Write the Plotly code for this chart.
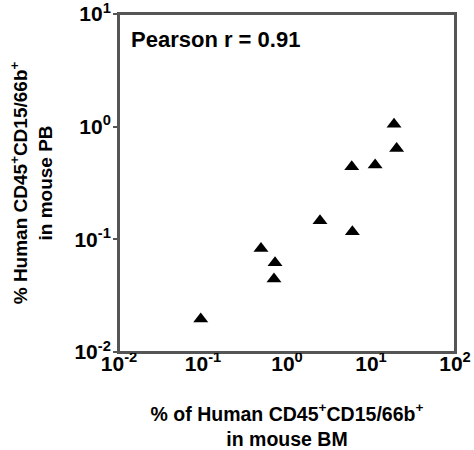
import plotly.graph_objects as go

# Data (% human CD45+CD15/66b+ in BM vs PB)
bm_pct = [0.094, 0.49, 0.72, 0.70, 2.47, 6.0, 5.9, 11.2, 18.8, 20.2]
pb_pct = [0.0196, 0.083, 0.062, 0.0445, 0.146, 0.117, 0.44, 0.456, 1.05, 0.64]

x_tickvals = [0.01, 0.1, 1, 10, 100]
x_ticktext = ["10<sup>-2</sup>", "10<sup>-1</sup>", "10<sup>0</sup>", "10<sup>1</sup>", "10<sup>2</sup>"]
y_tickvals = [0.01, 0.1, 1, 10]
y_ticktext = ["10<sup>-2</sup>", "10<sup>-1</sup>", "10<sup>0</sup>", "10<sup>1</sup>"]

annotation_text = "Pearson r = 0.91"
x_title = "% of Human CD45<sup>+</sup>CD15/66b<sup>+</sup><br>in mouse BM"
y_title = "% Human CD45<sup>+</sup>CD15/66b<sup>+</sup><br>in mouse PB"

FONT = "Liberation Sans, Arial, sans-serif"
AXCOL = "#555555"

fig = go.Figure()
fig.add_trace(go.Scatter(
    x=bm_pct, y=pb_pct, mode="markers",
    marker=dict(symbol="triangle-up", size=13, color="black"),
    showlegend=False,
))

fig.update_layout(
    width=474, height=450,
    margin=dict(l=119, r=19, t=14, b=98),
    paper_bgcolor="white", plot_bgcolor="white",
    font=dict(family=FONT, color="black"),
    xaxis=dict(
        type="log", range=[-2, 2], automargin=False,
        tickvals=x_tickvals, ticktext=x_ticktext,
        tickfont=dict(size=21, family=FONT, weight="bold"),
        showgrid=False, zeroline=False,
        showline=True, linecolor=AXCOL, linewidth=2, mirror=True,
        ticks="", ticklen=0, ticklabelstandoff=-8, ticklabeloverflow="allow",
        title=dict(text=x_title, font=dict(size=19.5, family=FONT, weight="bold"), standoff=34),
    ),
    yaxis=dict(
        type="log", range=[-2, 1], automargin=False,
        tickvals=y_tickvals, ticktext=y_ticktext,
        tickfont=dict(size=21, family=FONT, weight="bold"),
        showgrid=False, zeroline=False,
        showline=True, linecolor=AXCOL, linewidth=2, mirror=True,
        ticks="outside", ticklen=4, tickcolor=AXCOL, tickwidth=1.5,
        ticklabelstandoff=-2, ticklabeloverflow="allow",
        title=dict(text=y_title, font=dict(size=19, family=FONT, weight="bold"), standoff=17),
    ),
    shapes=[dict(
        type="rect", xref="paper", yref="paper", x0=0, y0=0, x1=1, y1=1,
        line=dict(color=AXCOL, width=2), fillcolor="rgba(0,0,0,0)", layer="above",
    )],
    annotations=[dict(
        text=annotation_text, xref="paper", yref="paper",
        x=0.03, y=0.925, xanchor="left", yanchor="middle", showarrow=False,
        font=dict(size=22, family=FONT, color="black", weight="bold"),
    )],
)

fig.write_html(
    "out.html",
    config={"displayModeBar": False},
    post_script="document.body.style.margin='0';",
)
